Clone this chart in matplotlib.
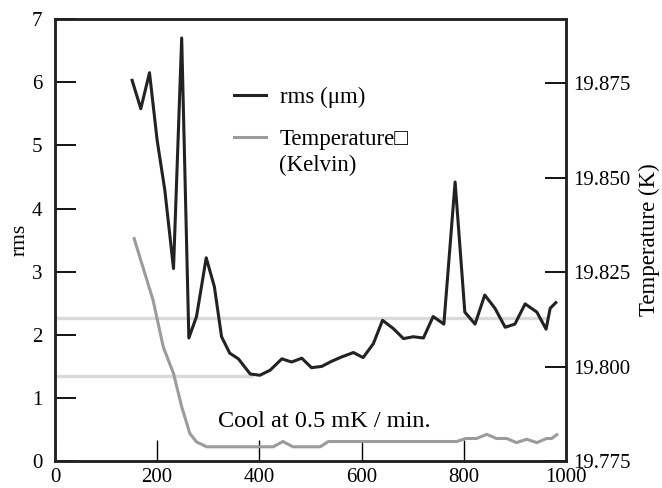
import matplotlib
matplotlib.use('Agg')
import matplotlib.pyplot as plt
from matplotlib.lines import Line2D

plt.rcParams['font.family'] = ['Liberation Serif', 'DejaVu Serif']

# rms of the measurement (left axis)
rms_x = [151, 168, 185, 200, 215, 232, 248, 262, 277, 296, 312, 326, 342, 359, 382,
         401, 421, 444, 463, 483, 502, 522, 541, 561, 584, 603, 623, 641, 662, 682,
         701, 721, 740, 761, 783, 802, 822, 841, 861, 881, 900, 920, 943, 961, 969, 980]
rms_y = [6.03, 5.58, 6.15, 5.08, 4.29, 3.05, 6.70, 1.95, 2.29, 3.22, 2.76, 1.97, 1.71,
         1.62, 1.38, 1.36, 1.44, 1.62, 1.57, 1.63, 1.48, 1.50, 1.58, 1.65, 1.72, 1.64,
         1.86, 2.23, 2.10, 1.94, 1.97, 1.95, 2.29, 2.17, 4.42, 2.36, 2.17, 2.63, 2.42,
         2.12, 2.17, 2.49, 2.36, 2.09, 2.42, 2.51]

# temperature (right axis, K)
temp_x = [155, 192, 212, 232, 248, 264, 277, 297, 427, 446, 466, 519, 535, 786, 804,
          825, 845, 864, 884, 903, 923, 943, 962, 972, 982]
temp_k = [19.8339, 19.8176, 19.8052, 19.7982, 19.7894, 19.7823, 19.7801, 19.7788,
          19.7788, 19.7802, 19.7788, 19.7788, 19.7802, 19.7802, 19.7810, 19.7810,
          19.7821, 19.7810, 19.7810, 19.7799, 19.7808, 19.7799, 19.7810, 19.7810, 19.7820]

# light reference levels (rms units) and where they stop
ref_levels = [2.27, 1.35]
ref_ends = [965, 387]

fig = plt.figure(figsize=(6.62, 4.88), dpi=100)
ax = fig.add_axes([0.083, 0.055, 0.772, 0.906])
ax2 = ax.twinx()

ax.hlines(ref_levels, 0, ref_ends, color='#d9d9d9', linewidth=2.4, zorder=1)
ax.plot(rms_x, rms_y, color='#222222', linewidth=2.2, zorder=3)
ax2.plot(temp_x, temp_k, color='#9b9b9b', linewidth=2.2)

ax.set_xlim(0, 1000)
ax.set_ylim(0, 7)
ax2.set_ylim(19.775, 19.892)
ax.set_xticks(range(0, 1001, 200))
ax.set_yticks(range(0, 8))
temp_ticks = [19.775, 19.800, 19.825, 19.850, 19.875]
ax2.set_yticks(temp_ticks)
ax2.set_yticklabels(['%.3f' % v for v in temp_ticks])

for a in (ax, ax2):
    for s in a.spines.values():
        s.set_linewidth(1.8)
        s.set_color('#222222')

ax.tick_params(axis='x', direction='in', length=15, width=1.0, pad=5, labelsize=15)
ax.tick_params(axis='y', direction='in', length=15, width=1.3, pad=9, labelsize=15)
ax2.tick_params(axis='y', direction='in', length=15, width=1.3, pad=5, labelsize=15)

ax.set_ylabel('rms', fontsize=15.5, labelpad=2)
ax2.set_ylabel('Temperature (K)', fontsize=16.5, labelpad=6)

ax.text(319, 0.54, 'Cool at 0.5 mK / min.', fontsize=17.5, va='baseline')

handles = [Line2D([], [], color='#222222', linewidth=2.2),
           Line2D([], [], color='#9b9b9b', linewidth=2.2)]
ax.legend(handles, ['rms (\u03bcm)', 'Temperature\u25a1'], loc='upper left',
          bbox_to_anchor=(0.31, 0.893), frameon=False, fontsize=16.5,
          handlelength=1.4, handletextpad=0.6, labelspacing=0.9)
ax.text(0.438, 0.669, '(Kelvin)', transform=ax.transAxes, fontsize=16.5, va='center')

fig.savefig('out.png', dpi=100)
